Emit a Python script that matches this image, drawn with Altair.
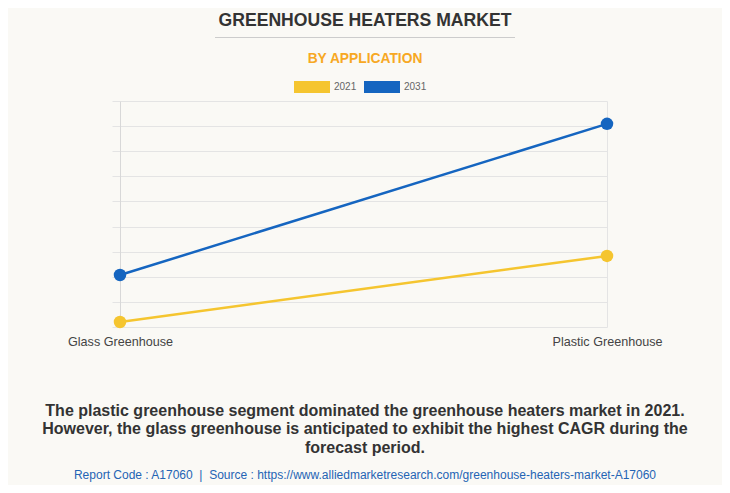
import altair as alt
import pandas as pd

categories = ["Glass Greenhouse", "Plastic Greenhouse"]
years = ["2021", "2031"]
values_2021 = [0.2, 2.83]
values_2031 = [2.07, 8.09]
colors = ["#f5c52f", "#1565c0"]

title_text = "GREENHOUSE HEATERS MARKET"
subtitle_text = "BY APPLICATION"
caption_text = ("The plastic greenhouse segment dominated the greenhouse heaters market in 2021.\n"
                "However, the glass greenhouse is anticipated to exhibit the highest CAGR during the\n"
                "forecast period.")
source_text = ("Report Code : A17060\u00a0\u00a0|\u00a0\u00a0Source : "
               "https://www.alliedmarketresearch.com/greenhouse-heaters-market-A17060")

rows = []
for i, c in enumerate(categories):
    rows.append({"application": c, "year": years[0], "value": values_2021[i]})
    rows.append({"application": c, "year": years[1], "value": values_2031[i]})
df = pd.DataFrame(rows)

FONT = "Liberation Sans, Arial, Helvetica, sans-serif"
GRID = "#e4e4e4"

legend_path = "M-1,-0.3333H1V0.3333H-1Z"

legend = alt.Legend(
    title=None, orient="none", legendX=174, legendY=-32, direction="horizontal",
    symbolType=legend_path, symbolSize=1296, symbolStrokeWidth=0, symbolOpacity=1,
    labelFont=FONT, labelFontSize=10, labelColor="#666666", labelOffset=4,
    columnPadding=7, padding=0,
)

color = alt.Color("year:N", scale=alt.Scale(domain=years, range=colors), legend=legend)

x = alt.X("application:N", sort=categories,
          scale=alt.Scale(type="point", padding=0),
          axis=alt.Axis(title=None, labelAngle=0, labelFont=FONT, labelFontSize=12.6,
                        labelColor="#444444", labelPadding=8, domain=False,
                        ticks=False, grid=True, gridColor=GRID, gridWidth=1))
y = alt.Y("value:Q", scale=alt.Scale(domain=[0, 9], nice=False, zero=True),
          axis=alt.Axis(title=None, labels=False, values=list(range(10)),
                        ticks=True, tickSize=8, tickColor=GRID, domain=True,
                        domainColor="#d8d8d8", grid=True, gridColor=GRID, gridWidth=1))

base = alt.Chart(df).encode(x=x, y=y, color=color)
lines = base.mark_line(strokeWidth=2.5)
points = base.mark_circle(size=156, opacity=1)

def text_layer(txt, xv, yv, size, weight, col, **kw):
    return alt.Chart(pd.DataFrame({"t": [txt]})).mark_text(
        font=FONT, fontSize=size, fontWeight=weight, color=col, align="center", **kw
    ).encode(text="t:N", x=alt.value(xv), y=alt.value(yv))

title = text_layer(title_text, 245, -80.5, 17.6, "bold", "#333333", baseline="middle")
subtitle = text_layer(subtitle_text, 245, -42.5, 13.8, "bold", "#f7a823", baseline="middle")
sep = alt.Chart(pd.DataFrame({"a": [0]})).mark_rule(color="#cccccc", strokeWidth=1).encode(
    x=alt.value(95), x2=alt.value(395), y=alt.value(-63.5))
caption = text_layer(caption_text, 245, 314.5, 16, "bold", "#333333",
                     baseline="alphabetic", lineBreak="\n", lineHeight=18.7)
source = text_layer(source_text, 245, 377.5, 12, "normal", "#2464b4", baseline="alphabetic")

chart = alt.layer(lines, points, title, sep, subtitle, caption, source).properties(
    width=487, height=226,
    autosize=alt.AutoSizeParams(type="none"),
    padding={"left": 112, "top": 93, "right": 115, "bottom": 158},
    background="#faf9f5",
).configure_view(stroke=None)

chart.save("out.html", embed_options={"renderer": "svg", "actions": False})
